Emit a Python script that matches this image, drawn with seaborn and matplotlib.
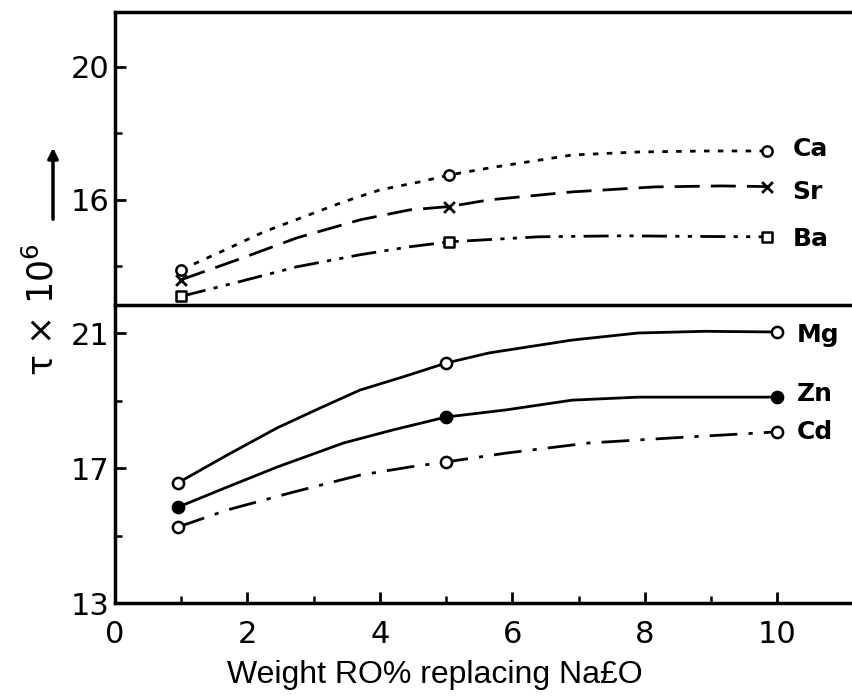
import matplotlib
matplotlib.use("Agg")
import matplotlib.pyplot as plt
import seaborn as sns

# Data
# top panel: Ca, Sr, Ba
x_marks_top = [1.0, 5.05, 9.85]
ca_marks = [13.9, 16.75, 17.47]
sr_marks = [13.6, 15.8, 16.4]
ba_marks = [13.1, 14.74, 14.89]

ca_x = [1.0, 1.6, 2.25, 2.85, 3.45, 4.0, 4.6, 5.05, 5.65, 6.9, 7.9, 8.9, 9.85]
ca_y = [13.9, 14.44, 15.04, 15.49, 15.94, 16.3, 16.54, 16.75, 16.96, 17.35, 17.44, 17.47, 17.47]
sr_x = [1.0, 1.85, 2.75, 3.7, 4.45, 5.05, 5.65, 6.9, 8.15, 9.15, 9.85]
sr_y = [13.6, 14.2, 14.86, 15.4, 15.7, 15.8, 16.0, 16.24, 16.39, 16.42, 16.4]
ba_x = [1.0, 1.8, 2.75, 3.7, 4.45, 5.05, 6.4, 7.65, 8.9, 9.85]
ba_y = [13.1, 13.5, 13.99, 14.35, 14.59, 14.74, 14.89, 14.92, 14.9, 14.89]

# bottom panel: Mg, Zn, Cd
x_marks_bot = [0.95, 5.0, 10.0]
mg_marks = [16.56, 20.11, 21.03]
zn_marks = [15.84, 18.51, 19.1]
cd_marks = [15.25, 17.18, 18.07]

mg_x = [0.95, 1.7, 2.45, 3.1, 3.7, 4.35, 5.0, 5.65, 6.9, 7.9, 8.9, 10.0]
mg_y = [16.56, 17.39, 18.19, 18.78, 19.31, 19.7, 20.11, 20.41, 20.79, 21.0, 21.05, 21.03]
zn_x = [0.95, 1.7, 2.45, 3.45, 4.2, 5.0, 5.9, 6.9, 7.9, 8.9, 10.0]
zn_y = [15.84, 16.44, 17.03, 17.74, 18.13, 18.51, 18.72, 19.01, 19.1, 19.1, 19.1]
cd_x = [0.95, 1.7, 2.7, 3.7, 4.45, 5.0, 5.9, 7.15, 8.4, 10.0]
cd_y = [15.25, 15.76, 16.29, 16.79, 17.03, 17.18, 17.44, 17.74, 17.89, 18.07]

x_ticks = [0, 2, 4, 6, 8, 10]
x_minor = [1, 3, 5, 7, 9]

sns.set_style("ticks")
plt.rcParams["font.family"] = ["DejaVu Sans"]
plt.rcParams["text.color"] = "black"
plt.rcParams["axes.edgecolor"] = "black"
plt.rcParams["xtick.color"] = "black"
plt.rcParams["ytick.color"] = "black"

fig = plt.figure(figsize=(8.52, 6.96), dpi=100)
ax_bot = fig.add_axes([0.135, 0.1336, 0.865, 0.4282])
ax_top = fig.add_axes([0.135, 0.5618, 0.865, 0.421])
ax_bot.patch.set_visible(False)
ax_top.patch.set_visible(False)

lw = 2.0

# top panel curves
sns.lineplot(x=ca_x, y=ca_y, ax=ax_top, color="black", lw=lw, linestyle=(0, (2, 3)), estimator=None, sort=False)
sns.lineplot(x=sr_x, y=sr_y, ax=ax_top, color="black", lw=lw, linestyle=(0, (9, 4)), estimator=None, sort=False)
sns.lineplot(x=ba_x, y=ba_y, ax=ax_top, color="black", lw=lw, linestyle=(0, (9, 3, 1.5, 3, 1.5, 3)), estimator=None, sort=False)

sns.scatterplot(x=x_marks_top, y=ca_marks, ax=ax_top, marker="o", s=55, facecolor="white", edgecolor="black", linewidth=1.8, zorder=5, clip_on=False)
sns.scatterplot(x=x_marks_top, y=sr_marks, ax=ax_top, marker="x", s=60, color="black", linewidth=2, zorder=5, clip_on=False)
sns.scatterplot(x=x_marks_top, y=ba_marks, ax=ax_top, marker="s", s=55, facecolor="white", edgecolor="black", linewidth=1.8, zorder=5, clip_on=False)

# bottom panel curves
sns.lineplot(x=mg_x, y=mg_y, ax=ax_bot, color="black", lw=lw, estimator=None, sort=False)
sns.lineplot(x=zn_x, y=zn_y, ax=ax_bot, color="black", lw=lw, estimator=None, sort=False)
sns.lineplot(x=cd_x, y=cd_y, ax=ax_bot, color="black", lw=lw, linestyle=(0, (10, 4, 1.5, 4)), estimator=None, sort=False)

sns.scatterplot(x=x_marks_bot, y=mg_marks, ax=ax_bot, marker="o", s=65, facecolor="white", edgecolor="black", linewidth=1.8, zorder=5, clip_on=False)
sns.scatterplot(x=x_marks_bot, y=zn_marks, ax=ax_bot, marker="o", s=65, facecolor="black", edgecolor="black", linewidth=1.8, zorder=5, clip_on=False)
sns.scatterplot(x=x_marks_bot, y=cd_marks, ax=ax_bot, marker="o", s=65, facecolor="white", edgecolor="black", linewidth=1.8, zorder=5, clip_on=False)

# series names at the line ends
for name, xs, ys, dy in [("Ca", x_marks_top, ca_marks, 0.05), ("Sr", x_marks_top, sr_marks, -0.15),
                         ("Ba", x_marks_top, ba_marks, -0.08)]:
    ax_top.text(xs[-1] + 0.38, ys[-1] + dy, name, fontsize=18, va="center", ha="left", fontweight="bold")
for name, xs, ys, dy in [("Mg", x_marks_bot, mg_marks, -0.1), ("Zn", x_marks_bot, zn_marks, 0.1),
                         ("Cd", x_marks_bot, cd_marks, 0.0)]:
    ax_bot.text(xs[-1] + 0.3, ys[-1] + dy, name, fontsize=18, va="center", ha="left", fontweight="bold")

# axes styling
for ax in (ax_top, ax_bot):
    ax.set_xlim(0, 11.13)
    ax.spines["right"].set_visible(False)
    ax.spines["left"].set_linewidth(2.5)
    ax.spines["bottom"].set_linewidth(2.5)
    ax.tick_params(axis="both", which="major", direction="in", length=8, width=2, labelsize=22, pad=4)
    ax.tick_params(axis="both", which="minor", direction="in", length=5, width=1.8)
    ax.set_xlabel("")
    ax.set_ylabel("")

ax_top.spines["top"].set_linewidth(2.5)
ax_top.set_ylim(12.84, 21.65)
ax_top.set_yticks([16, 20])
ax_top.set_yticks([14, 18], minor=True)
ax_top.set_xticks([])
ax_top.set_xticks([], minor=True)

ax_bot.spines["top"].set_visible(False)
ax_bot.set_ylim(13, 21.83)
ax_bot.set_yticks([13, 17, 21])
ax_bot.set_yticks([15, 19], minor=True)
ax_bot.set_xticks(x_ticks)
ax_bot.set_xticks(x_minor, minor=True)
ax_bot.tick_params(axis="x", which="major", pad=12)

# axis titles
fig.text(0.51, 0.03, "Weight RO% replacing Na£O", fontsize=23, family="Liberation Sans",
         ha="center", va="center")
fig.text(0.05, 1 - 310 / 696, "τ × 10$^6$", fontsize=25, rotation=90, ha="center", va="center")
ax_top.annotate("", xy=(53 / 852, 1 - 145 / 696), xytext=(53 / 852, 1 - 222 / 696),
                xycoords="figure fraction", textcoords="figure fraction",
                arrowprops=dict(arrowstyle="-|>", color="black", lw=2.5, mutation_scale=15))

fig.savefig("out.png", dpi=100)
